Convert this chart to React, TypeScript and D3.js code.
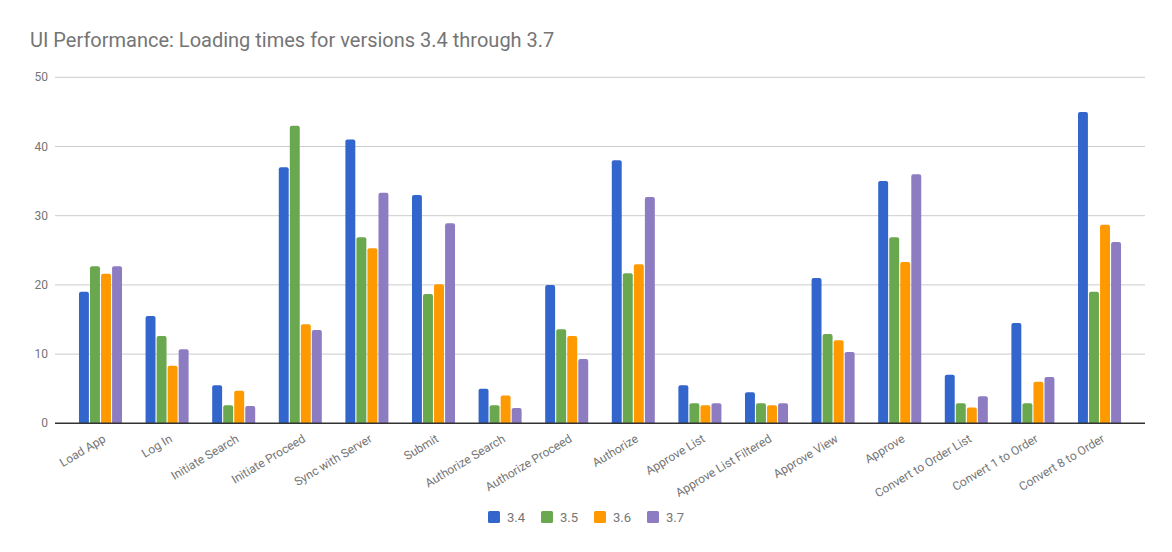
import React, { useEffect, useRef } from 'react';
import * as d3 from 'd3';

const categories = [
  'Load App', 'Log In', 'Initiate Search', 'Initiate Proceed', 'Sync with Server',
  'Submit', 'Authorize Search', 'Authorize Proceed', 'Authorize', 'Approve List',
  'Approve List Filtered', 'Approve View', 'Approve', 'Convert to Order List',
  'Convert 1 to Order', 'Convert 8 to Order',
];

const versions = ['3.4', '3.5', '3.6', '3.7'];

const v34 = [19, 15.5, 5.5, 37, 41, 33, 5, 20, 38, 5.5, 4.5, 21, 35, 7, 14.5, 45];
const v35 = [22.7, 12.6, 2.6, 43, 26.9, 18.7, 2.6, 13.6, 21.7, 2.9, 2.9, 12.9, 26.9, 2.9, 2.9, 19];
const v36 = [21.6, 8.3, 4.7, 14.3, 25.3, 20.1, 4, 12.6, 23, 2.6, 2.6, 12, 23.3, 2.3, 6, 28.7];
const v37 = [22.7, 10.7, 2.5, 13.5, 33.3, 28.9, 2.2, 9.3, 32.7, 2.9, 2.9, 10.3, 36, 3.9, 6.7, 26.2];

const yTicks = [0, 10, 20, 30, 40, 50];
const colors = ['#3366cc', '#6aa84f', '#ff9900', '#8e7cc3'];

const W = 1172;
const H = 552;

// bar with rounded top corners only
const barPath = (x: number, y: number, w: number, h: number, r: number) => {
  const rr = Math.min(r, h, w / 2);
  return `M${x},${y + h}V${y + rr}Q${x},${y} ${x + rr},${y}H${x + w - rr}Q${x + w},${y} ${x + w},${y + rr}V${y + h}Z`;
};

const App: React.FC = () => {
  const svgRef = useRef<SVGSVGElement>(null);

  useEffect(() => {
    if (!svgRef.current) return;
    const svg = d3.select(svgRef.current);
    svg.selectAll('*').remove();

    const font = 'Roboto, Arial, sans-serif';
    const left = 55;
    const right = 1145;

    const x0 = d3.scaleBand<string>()
      .domain(categories)
      .range([left, right])
      .paddingInner(0.354)
      .paddingOuter(0.36);

    const x1 = d3.scaleBand<string>()
      .domain(versions)
      .range([0, x0.bandwidth()])
      .paddingInner(0.1);

    const y = d3.scaleLinear().domain([0, 50]).range([423.3, 77.3]);

    // Title
    svg.append('text')
      .attr('x', 30)
      .attr('y', 47)
      .attr('fill', '#757575')
      .style('font-family', font)
      .style('font-size', '20px')
      .text('UI Performance: Loading times for versions 3.4 through 3.7');

    // Gridlines + y labels
    const grid = svg.append('g');
    yTicks.forEach(t => {
      if (t > 0) {
        grid.append('line')
          .attr('x1', left).attr('x2', right)
          .attr('y1', y(t)).attr('y2', y(t))
          .attr('stroke', '#cccccc')
          .attr('stroke-width', 1);
      }
      grid.append('text')
        .attr('x', 48)
        .attr('y', y(t) + 4)
        .attr('text-anchor', 'end')
        .attr('fill', '#757575')
        .style('font-family', font)
        .style('font-size', '12px')
        .text(t);
    });

    // Bars
    const series = [v34, v35, v36, v37];
    const g = svg.append('g');
    categories.forEach((c, i) => {
      versions.forEach((v, j) => {
        const val = series[j][i];
        const bx = (x0(c) ?? 0) + (x1(v) ?? 0);
        const by = y(val);
        g.append('path')
          .attr('d', barPath(bx, by, x1.bandwidth(), y(0) - by, 2))
          .attr('fill', colors[j]);
      });
    });

    // Baseline
    svg.append('line')
      .attr('x1', left).attr('x2', right)
      .attr('y1', y(0)).attr('y2', y(0))
      .attr('stroke', '#333333')
      .attr('stroke-width', 1.5);

    // X labels
    categories.forEach(c => {
      const cx = (x0(c) ?? 0) + x0.bandwidth() / 2 + 6;
      svg.append('text')
        .attr('transform', `translate(${cx},441) rotate(-31)`)
        .attr('text-anchor', 'end')
        .attr('fill', '#757575')
        .style('font-family', font)
        .style('font-size', '12px')
        .text(c);
    });

    // Legend
    const legend = svg.append('g');
    versions.forEach((v, j) => {
      const lx = 488 + j * 53;
      legend.append('rect')
        .attr('x', lx).attr('y', 511)
        .attr('width', 12).attr('height', 12)
        .attr('rx', 1.5)
        .attr('fill', colors[j]);
      legend.append('text')
        .attr('x', lx + 19)
        .attr('y', 522)
        .attr('fill', '#757575')
        .style('font-family', font)
        .style('font-size', '13px')
        .text(v);
    });
  }, []);

  return (
    <svg
      ref={svgRef}
      width={W}
      height={H}
      style={{ position: 'absolute', left: 0, top: 0, background: '#fff' }}
    />
  );
};

export default App;
